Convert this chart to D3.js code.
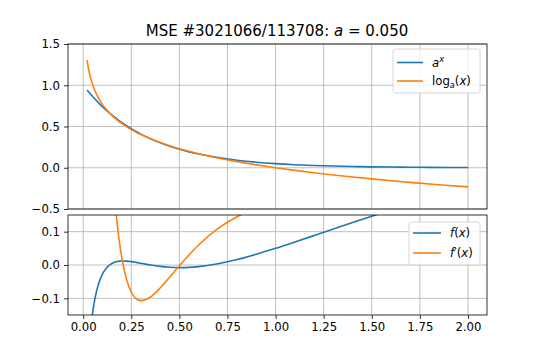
<!DOCTYPE html>
<html><head><meta charset="utf-8">
<script src="https://cdn.jsdelivr.net/npm/d3@7"></script>
<style>
body{margin:0;background:#fff;}
svg{display:block;font-family:"DejaVu Sans",sans-serif;}
</style></head>
<body><svg id="c" width="540" height="360"></svg>
<script>
const titleText = "MSE #3021066/113708: ";
const xs = [0.02,0.03,0.04,0.05,0.06,0.08,0.10,0.12,0.14,0.16,0.17,0.18,0.19,0.20,0.225,0.25,0.275,0.30,0.35,0.40,0.45,0.50,0.55,0.60,0.70,0.80,0.90,1.00,1.10,1.20,1.30,1.40,1.50,1.60,1.70,1.80,1.90,2.00];
const aPow = [0.9418,0.9140,0.8871,0.8609,0.8355,0.7869,0.7411,0.6980,0.6574,0.6192,0.6010,0.5832,0.5660,0.5493,0.5097,0.4729,0.4388,0.4071,0.3505,0.3017,0.2597,0.2236,0.1925,0.1657,0.1228,0.0910,0.0675,0.0500,0.0371,0.0275,0.0204,0.0151,0.0112,0.0083,0.0061,0.0046,0.0034,0.0025];
const logA = [1.3059,1.1705,1.0745,1.0000,0.9391,0.8431,0.7686,0.7078,0.6563,0.6117,0.5915,0.5724,0.5544,0.5372,0.4979,0.4628,0.4309,0.4019,0.3504,0.3059,0.2665,0.2314,0.1996,0.1705,0.1191,0.0745,0.0352,0.0000,-0.0318,-0.0609,-0.0876,-0.1123,-0.1354,-0.1569,-0.1771,-0.1962,-0.2143,-0.2314];
const fVals = [-0.3640,-0.2565,-0.1874,-0.1391,-0.1037,-0.0562,-0.0275,-0.0097,0.0011,0.0075,0.0095,0.0108,0.0116,0.0120,0.0117,0.0101,0.0078,0.0052,0.0000,-0.0042,-0.0068,-0.0078,-0.0071,-0.0048,0.0038,0.0165,0.0323,0.0500,0.0689,0.0883,0.1079,0.1274,0.1465,0.1652,0.1833,0.2008,0.2176,0.2339];
const fPrime = [13.869,8.389,5.688,4.097,3.061,1.815,1.118,0.691,0.415,0.231,0.163,0.107,0.061,0.024,-0.043,-0.081,-0.101,-0.107,-0.096,-0.069,-0.036,-0.002,0.030,0.060,0.109,0.145,0.169,0.184,0.192,0.196,0.196,0.193,0.189,0.184,0.178,0.172,0.166,0.159];
const xTicks = [0,0.25,0.5,0.75,1.0,1.25,1.5,1.75,2.0];
const yTopTicks = [-0.5,0.0,0.5,1.0,1.5];
const yBotTicks = [-0.1,0.0,0.1];

const blue = "#1f77b4", orange = "#ff7f0e";
const fs = 11.7;
const svg = d3.select("#c");
const L = 68, R = 487;
const x = d3.scaleLinear().domain([-0.079, 2.099]).range([L, R]);
const yT = d3.scaleLinear().domain([-0.5, 1.5]).range([209, 44]);
const yB = d3.scaleLinear().domain([-0.15, 0.15]).range([315, 215]);

function panel(y, ticks, fmt, id, showX, series, leg) {
  const [y0, y1] = y.range();
  const g = svg.append("g");
  g.append("clipPath").attr("id", id).append("rect")
    .attr("x", L).attr("y", y1).attr("width", R - L).attr("height", y0 - y1);
  g.append("g").selectAll("line").data(xTicks).join("line")
    .attr("x1", d => x(d)).attr("x2", d => x(d)).attr("y1", y1).attr("y2", y0)
    .attr("stroke", "#b0b0b0").attr("stroke-width", 0.8);
  g.append("g").selectAll("line").data(ticks).join("line")
    .attr("x1", L).attr("x2", R).attr("y1", d => y(d)).attr("y2", d => y(d))
    .attr("stroke", "#b0b0b0").attr("stroke-width", 0.8);
  const cg = g.append("g").attr("clip-path", `url(#${id})`);
  series.forEach(s => {
    cg.append("path").datum(xs.map((v, i) => [v, s.vals[i]]))
      .attr("fill", "none").attr("stroke", s.color).attr("stroke-width", 1.6)
      .attr("stroke-linejoin", "round")
      .attr("d", d3.line().x(d => x(d[0])).y(d => y(d[1])).curve(d3.curveMonotoneX));
  });
  const ay = g.append("g").attr("transform", `translate(${L},0)`)
    .call(d3.axisLeft(y).tickValues(ticks).tickFormat(fmt).tickSize(4).tickPadding(4));
  ay.select(".domain").remove();
  ay.selectAll("line").attr("stroke", "#000").attr("stroke-width", 0.8);
  ay.selectAll("text").attr("font-size", fs).attr("fill", "#000").attr("font-family", "DejaVu Sans");
  if (showX) {
    const ax = g.append("g").attr("transform", `translate(0,${y0})`)
      .call(d3.axisBottom(x).tickValues(xTicks).tickFormat(d3.format(".2f")).tickSize(4).tickPadding(4));
    ax.select(".domain").remove();
    ax.selectAll("line").attr("stroke", "#000").attr("stroke-width", 0.8);
    ax.selectAll("text").attr("font-size", fs).attr("fill", "#000").attr("font-family", "DejaVu Sans");
  }
  g.append("rect").attr("x", L).attr("y", y1).attr("width", R - L).attr("height", y0 - y1)
    .attr("fill", "none").attr("stroke", "#000").attr("stroke-width", 0.8);
  const lg = g.append("g");
  lg.append("rect").attr("x", leg.x0).attr("y", leg.y0).attr("width", leg.x1 - leg.x0).attr("height", leg.y1 - leg.y0)
    .attr("rx", 2.5).attr("fill", "#fff").attr("fill-opacity", 0.8).attr("stroke", "#cccccc").attr("stroke-width", 0.8);
  series.forEach((s, i) => {
    const yy = leg.rows[i];
    lg.append("line").attr("x1", leg.lx0).attr("x2", leg.lx1).attr("y1", yy).attr("y2", yy)
      .attr("stroke", s.color).attr("stroke-width", 1.6);
    const t = lg.append("text").attr("x", leg.tx).attr("y", yy + 4).attr("font-size", fs).attr("fill", "#000");
    s.label(t);
  });
}

panel(yT, yTopTicks, d3.format(".1f"), "clipT", false,
  [{vals: aPow, color: blue, label: t => {
      t.append("tspan").attr("font-style", "italic").text("a");
      t.append("tspan").attr("font-style", "italic").attr("font-size", fs * 0.7).attr("dy", -5).text("x");
    }},
   {vals: logA, color: orange, label: t => {
      t.append("tspan").text("log");
      t.append("tspan").attr("font-style", "italic").attr("font-size", fs * 0.7).attr("dy", 3).text("a");
      t.append("tspan").attr("dy", -3).text("(");
      t.append("tspan").attr("font-style", "italic").text("x");
      t.append("tspan").text(")");
    }}],
  {x0: 393, x1: 480, y0: 49, y1: 93, lx0: 397, lx1: 423, tx: 432, rows: [62.5, 81]});

panel(yB, yBotTicks, d3.format(".1f"), "clipB", true,
  [{vals: fVals, color: blue, label: t => {
      t.append("tspan").attr("font-style", "italic").text("f");
      t.append("tspan").text("(");
      t.append("tspan").attr("font-style", "italic").text("x");
      t.append("tspan").text(")");
    }},
   {vals: fPrime, color: orange, label: t => {
      t.append("tspan").attr("font-style", "italic").text("f′");
      t.append("tspan").text("(");
      t.append("tspan").attr("font-style", "italic").text("x");
      t.append("tspan").text(")");
    }}],
  {x0: 409, x1: 480, y0: 222, y1: 265, lx0: 413, lx1: 441, tx: 450, rows: [233, 253]});

const tt = svg.append("text").attr("x", 277).attr("y", 36).attr("text-anchor", "middle")
  .attr("font-size", 15).attr("fill", "#000");
tt.append("tspan").text(titleText);
tt.append("tspan").attr("font-style", "italic").text("a");
tt.append("tspan").text(" = 0.050");
</script></body></html>
